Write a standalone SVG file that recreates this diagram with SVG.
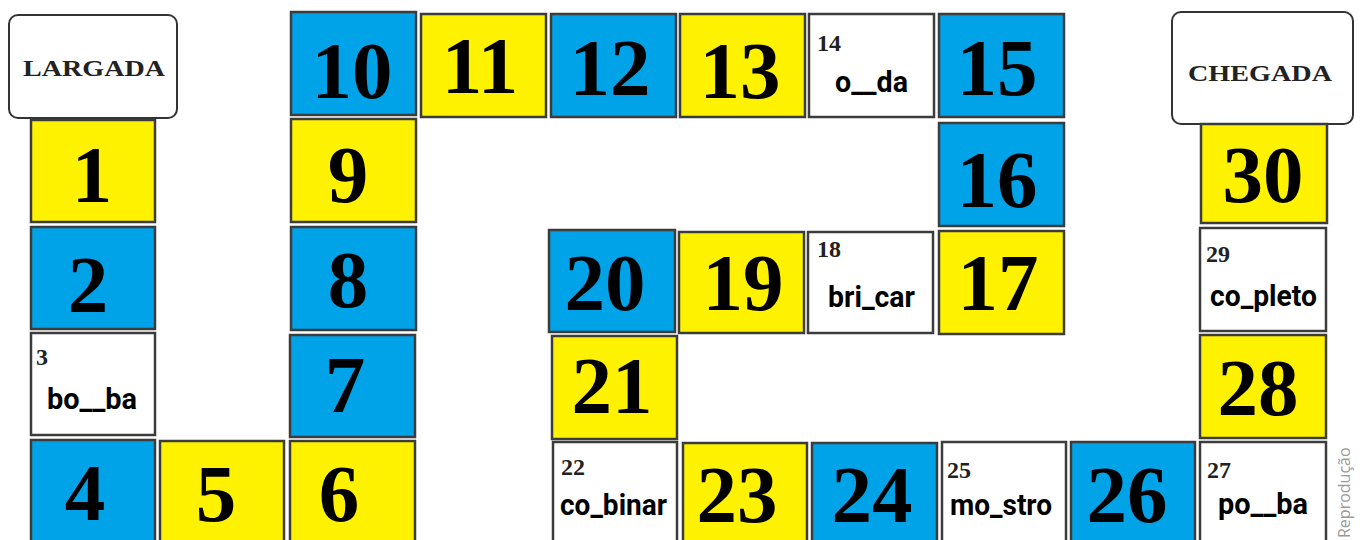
<svg xmlns="http://www.w3.org/2000/svg" width="1362" height="540" viewBox="0 0 1362 540">
<style>
.c{stroke:#3c3c3c;stroke-width:2.5}
.b{fill:#00A2E8}
.y{fill:#FFF200}
.w{fill:#ffffff}
.n{font-family:"Liberation Serif","Times New Roman",serif;font-weight:bold;font-size:81px;fill:#000;text-anchor:middle}
.s{font-family:"Liberation Serif","Times New Roman",serif;font-weight:bold;font-size:24px;fill:#222}
.t{font-family:Roboto,"Liberation Sans",Arial,sans-serif;font-weight:bold;font-size:29px;fill:#000}
.lbl{font-family:"Liberation Serif","Times New Roman",serif;font-weight:bold;font-size:23px;fill:#222;text-anchor:middle}
.end{fill:#fff;stroke:#333;stroke-width:2}
.rep{font-family:"Open Sans","Noto Sans",sans-serif;font-size:16px;fill:#9a9a9a}
</style>
<rect width="1362" height="540" fill="#fff"/>
<g id="largada"><rect class="end" x="9" y="15" width="168" height="103" rx="9"/><text class="lbl" x="94" y="76" textLength="142" lengthAdjust="spacingAndGlyphs">LARGADA</text></g>
<g id="chegada"><rect class="end" x="1172" y="12" width="181" height="112" rx="9"/><text class="lbl" x="1260" y="81" textLength="144" lengthAdjust="spacingAndGlyphs">CHEGADA</text></g>
<g id="cell1"><rect class="c y" x="31" y="120" width="124" height="102"/><text class="n" x="92" y="202">1</text></g>
<g id="cell2"><rect class="c b" x="31" y="227" width="124" height="102"/><text class="n" x="88" y="312">2</text></g>
<g id="cell3"><rect class="c w" x="31" y="333" width="124" height="102"/><text class="s" x="36" y="365">3</text><text class="t" x="47" y="409" textLength="90" lengthAdjust="spacingAndGlyphs">bo__ba</text></g>
<g id="cell4"><rect class="c b" x="31" y="440" width="124" height="104"/><text class="n" x="85" y="520">4</text></g>
<g id="cell5"><rect class="c y" x="160" y="441" width="124" height="104"/><text class="n" x="216" y="521">5</text></g>
<g id="cell6"><rect class="c y" x="290" y="441" width="125" height="104"/><text class="n" x="339" y="521">6</text></g>
<g id="cell7"><rect class="c b" x="290" y="335" width="125" height="102"/><text class="n" x="345" y="412">7</text></g>
<g id="cell8"><rect class="c b" x="291" y="227" width="125" height="103"/><text class="n" x="348" y="307">8</text></g>
<g id="cell9"><rect class="c y" x="291" y="119" width="125" height="103"/><text class="n" x="348" y="202">9</text></g>
<g id="cell10"><rect class="c b" x="291" y="12" width="125" height="103"/><text class="n" x="352" y="98">10</text></g>
<g id="cell11"><rect class="c y" x="421" y="14" width="125" height="103"/><text class="n" x="480" y="93">11</text></g>
<g id="cell12"><rect class="c b" x="551" y="14" width="125" height="103"/><text class="n" x="610" y="95">12</text></g>
<g id="cell13"><rect class="c y" x="680" y="14" width="125" height="103"/><text class="n" x="740" y="98">13</text></g>
<g id="cell14"><rect class="c w" x="809" y="14" width="125" height="103"/><text class="s" x="817" y="51">14</text><text class="t" x="835" y="92" textLength="73" lengthAdjust="spacingAndGlyphs">o__da</text></g>
<g id="cell15"><rect class="c b" x="939" y="14" width="125" height="103"/><text class="n" x="997" y="95">15</text></g>
<g id="cell16"><rect class="c b" x="939" y="123" width="125" height="103"/><text class="n" x="997" y="207">16</text></g>
<g id="cell17"><rect class="c y" x="939" y="231" width="125" height="103"/><text class="n" x="998" y="310">17</text></g>
<g id="cell18"><rect class="c w" x="808" y="232" width="125" height="101"/><text class="s" x="817" y="257">18</text><text class="t" x="828" y="307" textLength="87" lengthAdjust="spacingAndGlyphs">bri_car</text></g>
<g id="cell19"><rect class="c y" x="679" y="232" width="125" height="101"/><text class="n" x="743" y="310">19</text></g>
<g id="cell20"><rect class="c b" x="549" y="230" width="126" height="102"/><text class="n" x="605" y="310">20</text></g>
<g id="cell21"><rect class="c y" x="552" y="336" width="125" height="103"/><text class="n" x="612" y="413">21</text></g>
<g id="cell22"><rect class="c w" x="553" y="442" width="124" height="104"/><text class="s" x="561" y="475">22</text><text class="t" x="560" y="515" textLength="107" lengthAdjust="spacingAndGlyphs">co_binar</text></g>
<g id="cell23"><rect class="c y" x="683" y="443" width="124" height="104"/><text class="n" x="737" y="522">23</text></g>
<g id="cell24"><rect class="c b" x="812" y="443" width="125" height="104"/><text class="n" x="872" y="522">24</text></g>
<g id="cell25"><rect class="c w" x="942" y="442" width="124" height="104"/><text class="s" x="947" y="478">25</text><text class="t" x="950" y="515" textLength="102" lengthAdjust="spacingAndGlyphs">mo_stro</text></g>
<g id="cell26"><rect class="c b" x="1071" y="442" width="124" height="104"/><text class="n" x="1127" y="522">26</text></g>
<g id="cell27"><rect class="c w" x="1200" y="442" width="126" height="104"/><text class="s" x="1207" y="478">27</text><text class="t" x="1218" y="514" textLength="90" lengthAdjust="spacingAndGlyphs">po__ba</text></g>
<g id="cell28"><rect class="c y" x="1200" y="335" width="126" height="103"/><text class="n" x="1258" y="415">28</text></g>
<g id="cell29"><rect class="c w" x="1200" y="228" width="126" height="103"/><text class="s" x="1206" y="262">29</text><text class="t" x="1210" y="306" textLength="107" lengthAdjust="spacingAndGlyphs">co_pleto</text></g>
<g id="cell30"><rect class="c y" x="1201" y="124" width="126" height="99"/><text class="n" x="1263" y="202">30</text></g>
<g id="connectors"></g>
<text class="rep" transform="translate(1350,538) rotate(-90)">Reprodução</text>
</svg>
